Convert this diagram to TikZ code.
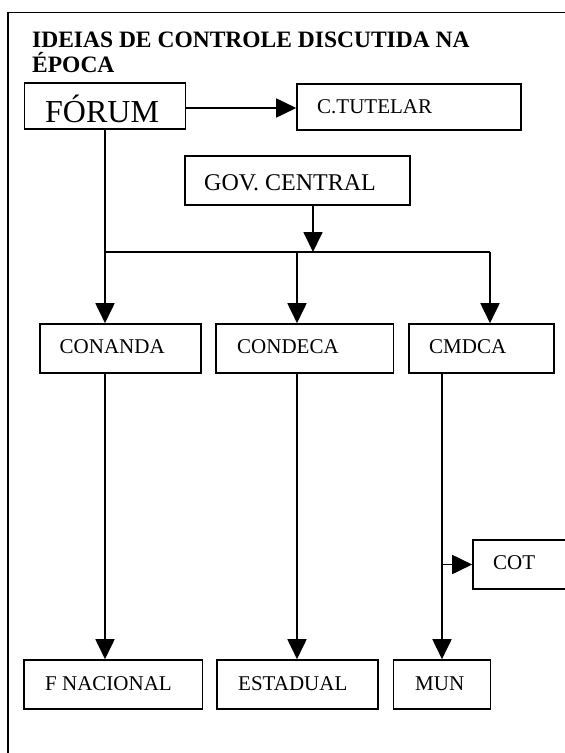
\documentclass[tikz,border=0pt]{standalone}
\usepackage{fontspec}
\setmainfont{Liberation Serif}
\usetikzlibrary{arrows.meta,fit}
\begin{document}
\begin{tikzpicture}[x=1pt,y=-1pt,
  box/.style={draw,line width=1.6pt,rectangle,inner sep=0pt},
  lbl/.style={anchor=base west,inner sep=0pt,font=\fontsize{21}{25}\selectfont},
  conn/.style={line width=1.8pt},
  arr/.style={conn,-{Triangle[length=20pt,width=19pt]}}]
\clip (0,0) rectangle (565,753);
\fill[white] (0,0) rectangle (565,753);
% frame
\draw[line width=1.5pt] (8,760) -- (8,12.5) -- (575,12.5);
% title
\node[anchor=base west,inner sep=0pt,font=\fontsize{23.5}{25}\selectfont\bfseries] (t1) at (32,47) {IDEIAS DE CONTROLE DISCUTIDA NA};
\node[anchor=base west,inner sep=0pt,font=\fontsize{23.5}{25}\selectfont\bfseries] (t2) at (32,72) {ÉPOCA};
% boxes
\node[box,fit={(24.5,83) (185.5,129)}] (forum) {};
\node[box,fit={(297,84) (521,130)}] (tutelar) {};
\node[box,fit={(185,156) (410,205)}] (gov) {};
\node[box,fit={(40,324) (201,373)}] (conanda) {};
\node[box,fit={(216,324) (393.5,373)}] (condeca) {};
\node[box,fit={(409,324) (554,373)}] (cmdca) {};
\node[box,fit={(473,540) (600,589)}] (cot) {};
\node[box,fit={(24,660) (202.5,709)}] (fnac) {};
\node[box,fit={(217,660) (378,709)}] (estadual) {};
\node[box,fit={(393.5,660) (490.5,709)}] (mun) {};
% labels
\node[lbl,font=\fontsize{32}{36}\selectfont] (forumt) at (45,122) {FÓRUM};
\node[lbl] (tutelart) at (317,113) {C.TUTELAR};
\node[lbl,font=\fontsize{24}{28}\selectfont] (govt) at (204,190) {GOV. CENTRAL};
\node[lbl] (conandat) at (59.5,353) {CONANDA};
\node[lbl] (condecat) at (237,353) {CONDECA};
\node[lbl] (cmdcat) at (429,353) {CMDCA};
\node[lbl] (cott) at (493,569) {COT};
\node[lbl] (fnact) at (45,690) {F NACIONAL};
\node[lbl] (estadualt) at (238,690) {ESTADUAL};
\node[lbl] (munt) at (415,690) {MUN};
% junctions
\coordinate (ja) at (105,252);
\coordinate (jg) at (313,252);
\coordinate (jb) at (297,252);
\coordinate (jc) at (490,252);
% connectors
\draw[arr] (forum.east |- 0,108) -- (tutelar.west |- 0,108);
\draw[arr] (gov.south -| jg) -- (jg);
\draw[conn] (ja) -- (jc);
\draw[arr] (ja |- forum.south) -- (ja |- conanda.north);
\draw[arr] (jb) -- (jb |- condeca.north);
\draw[arr] (jc) -- (jc |- cmdca.north);
\draw[arr] (ja |- conanda.south) -- (ja |- fnac.north);
\draw[arr] (jb |- condeca.south) -- (jb |- estadual.north);
\draw[arr] (mun.north |- cmdca.south) -- (mun.north);
\draw[arr] (mun.north |- cot.west) -- (cot.west);
\end{tikzpicture}
\end{document}
